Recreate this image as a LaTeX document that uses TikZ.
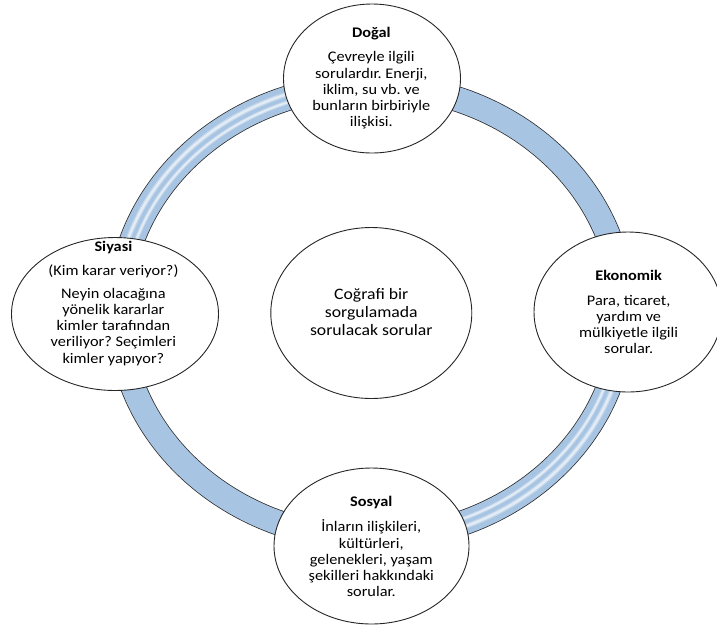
\documentclass[tikz,border=0pt]{standalone}
\usepackage{fontspec}
\setmainfont{Carlito}
\usepackage{graphicx}
\usetikzlibrary{shapes.geometric}
\definecolor{ringblue}{RGB}{167,196,227}
\definecolor{ringedge}{RGB}{40,40,40}
\newcommand{\sqz}[1]{\scalebox{1}[0.9]{\begin{tabular}{@{}c@{}}#1\end{tabular}}}
\frenchspacing
\begin{document}
\begin{tikzpicture}[x=1pt,y=-1pt,
  bubble/.style={draw=black!85, line width=0.9pt, fill=white, ellipse, inner sep=0pt},
  txt/.style={inner sep=0pt, font=\fontsize{16.3}{18}\selectfont},
  bigtxt/.style={inner sep=0pt, font=\fontsize{17.7}{19.5}\selectfont},
  stripe/.style={white, line width=#1}]
\useasboundingbox (0,0) rectangle (717,625);
% ring
\draw[line width=25.5pt, ringedge] (371,312) ellipse [x radius=252, y radius=226.5];
\draw[line width=24pt, ringblue] (371,312) ellipse [x radius=252, y radius=226.5];
\foreach \st in {0,180}{
  \draw[stripe=5pt, opacity=0.3] (371,312) ++(\st:256 and 230.5) arc[start angle=\st, end angle=\st+90, x radius=256, y radius=230.5];
  \draw[stripe=2.5pt, opacity=0.55] (371,312) ++(\st:256 and 230.5) arc[start angle=\st, end angle=\st+90, x radius=256, y radius=230.5];
  \draw[stripe=4pt, opacity=0.3] (371,312) ++(\st:248 and 222.5) arc[start angle=\st, end angle=\st+90, x radius=248, y radius=222.5];
  \draw[stripe=2pt, opacity=0.55] (371,312) ++(\st:248 and 222.5) arc[start angle=\st, end angle=\st+90, x radius=248, y radius=222.5];
}
% bubbles
\node[bubble, minimum width=177pt, minimum height=149pt] (dogal) at (372,78.5) {};
\node[bubble, minimum width=207pt, minimum height=153pt] (siyasi) at (115,314) {};
\node[bubble, minimum width=201pt, minimum height=171pt] (merkez) at (371.3,313) {};
\node[bubble, minimum width=188pt, minimum height=160pt] (ekonomik) at (628,312) {};
\node[bubble, minimum width=195pt, minimum height=156pt] (sosyal) at (371.5,546) {};
% texts
\node[txt] (dogalT) at (371.3,79) {\sqz{\textbf{Doğal}\\[9pt] Çevreyle ilgili\\ sorulardır. Enerji,\\ iklim, su vb. ve\\ bunların birbiriyle\\ ilişkisi.}};
\node[txt] (siyasiT) at (113.4,304) {\sqz{\textbf{Siyasi}\\[9pt] (Kim karar veriyor?)\\[7pt] Neyin olacağına\\ yönelik kararlar\\ kimler tarafından\\ veriliyor? Seçimleri\\ kimler yapıyor?}};
\node[txt] (ekonomikT) at (628.7,314) {\sqz{\textbf{Ekonomik}\\[9pt] Para, ticaret,\\ yardım ve\\ mülkiyetle ilgili\\ sorular.}};
\node[txt] (sosyalT) at (371.3,548.5) {\sqz{\textbf{Sosyal}\\[9pt] İnların ilişkileri,\\ kültürleri,\\ gelenekleri, yaşam\\ şekilleri hakkındaki\\ sorular.}};
\node[bigtxt] (merkezT) at (371.3,314) {\sqz{Coğrafi bir\\ sorgulamada\\ sorulacak sorular}};
\end{tikzpicture}
\end{document}
